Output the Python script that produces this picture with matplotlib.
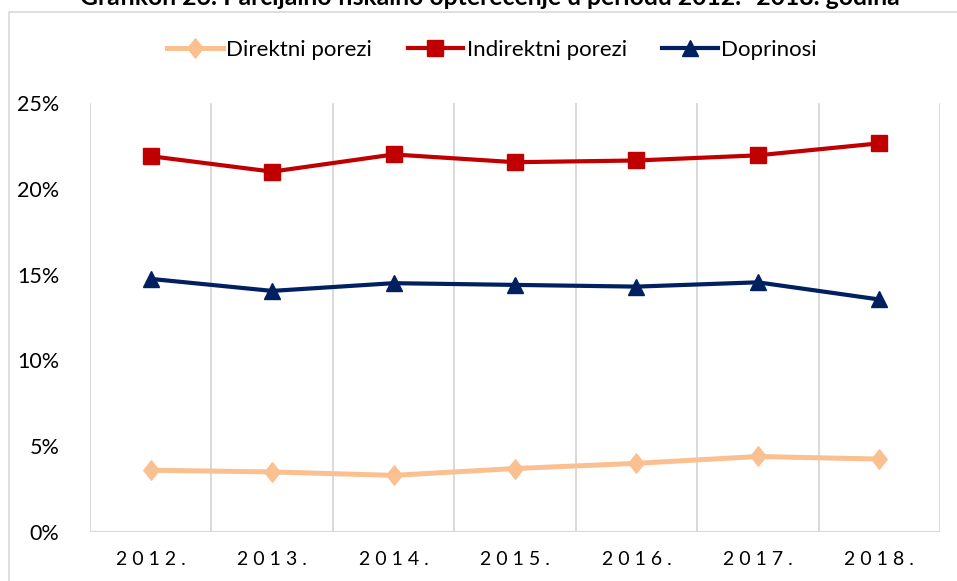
import matplotlib
matplotlib.use("Agg")
import matplotlib.pyplot as plt
from matplotlib.patches import Rectangle
from matplotlib.path import Path
from matplotlib.lines import Line2D

plt.rcParams['font.family'] = ['Lato', 'DejaVu Sans']

years = ['2012.', '2013.', '2014.', '2015.', '2016.', '2017.', '2018.']
direktni = [3.6, 3.5, 3.3, 3.7, 4.0, 4.4, 4.25]
indirektni = [21.9, 21.0, 22.0, 21.55, 21.65, 21.95, 22.65]
doprinosi = [14.75, 14.05, 14.5, 14.4, 14.3, 14.55, 13.55]
yticks = [0, 5, 10, 15, 20, 25]
title = 'Grafikon 26: Parcijalno fiskalno opterećenje u periodu 2012. -2018. godina'
series_names = ['Direktni porezi', 'Indirektni porezi', 'Doprinosi']

W, H = 957, 581
fig = plt.figure(figsize=(W / 100, H / 100), dpi=100)
fig.patch.set_facecolor('white')

# outer chart border
fig.patches.append(Rectangle((9 / W, -0.1), 1.2, 1.1 - 12 / H, transform=fig.transFigure,
                             fill=False, edgecolor='#D9D9D9', linewidth=1.2, zorder=0))

ax = fig.add_axes([90 / W, (H - 532) / H, (940 - 90) / W, (532 - 103) / H])
x = list(range(len(years)))

diamond = Path([(0, 1), (0.79, 0), (0, -1), (-0.79, 0), (0, 1)],
               [Path.MOVETO, Path.LINETO, Path.LINETO, Path.LINETO, Path.CLOSEPOLY])

c_dir, c_ind, c_dop = '#FAC090', '#C00000', '#002060'
ax.plot(x, direktni, color=c_dir, lw=3.6, marker=diamond, ms=14, solid_joinstyle='round', zorder=3)
ax.plot(x, indirektni, color=c_ind, lw=3.0, marker='s', ms=12.2, zorder=3)
ax.plot(x, doprinosi, color=c_dop, lw=3.0, marker='^', ms=12, zorder=3)

ax.set_xlim(-0.5, len(years) - 0.5)
ax.set_ylim(0, 25)
for b in [i - 0.5 for i in range(len(years) + 1)]:
    ax.axvline(b, color='#D9D9D9', lw=1.4, zorder=1)
for s in ax.spines.values():
    s.set_visible(False)
ax.axhline(0, color='#D9D9D9', lw=1.6, zorder=1)

ax.set_yticks(yticks)
ax.set_yticklabels([f'{v}%' for v in yticks], fontsize=15.5, color='#000000')
ax.set_xticks(x)
ax.set_xticklabels([' '.join(y) for y in years], fontsize=14, color='#000000')
ax.tick_params(axis='y', length=0, pad=22)
ax.tick_params(axis='x', length=0, pad=14)

fig.text(490 / W, 1 - 5 / H, title, ha='center', va='baseline', fontsize=17.8,
         fontweight='bold', color='#000000')

handles = [
    Line2D([], [], color=c_dir, lw=3.6, marker=diamond, ms=14),
    Line2D([], [], color=c_ind, lw=3.0, marker='s', ms=12.2),
    Line2D([], [], color=c_dop, lw=3.0, marker='^', ms=12),
]
fig.legend(handles, series_names, loc='center', bbox_to_anchor=(492 / W, 1 - 50 / H),
           ncol=3, frameon=False, fontsize=16, handlelength=2.5, handletextpad=0.15,
           columnspacing=1.6, borderaxespad=0)

fig.savefig('out.png', dpi=100, facecolor='white')
